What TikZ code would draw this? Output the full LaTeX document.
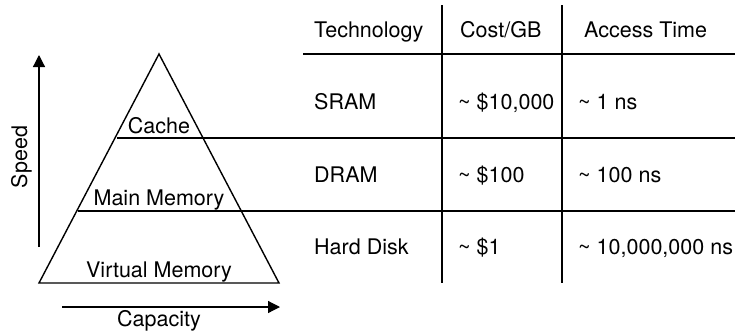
\documentclass[tikz,border=0pt]{standalone}
\usepackage{fontspec}
\setmainfont{TeX Gyre Heros}
\usetikzlibrary{arrows.meta}

\begin{document}
\begin{tikzpicture}[x=1pt,y=-1pt,>={Triangle[length=12pt,width=12pt]},
    every node/.style={font=\fontsize{21.5}{26}\selectfont,inner sep=0pt},
    cell/.style={anchor=base west}, rule/.style={line width=1.4pt}]
    \useasboundingbox (0,0) rectangle (735,332);
    % pyramid
    \coordinate (top) at (159,54);
    \coordinate (bl) at (39,283);
    \coordinate (br) at (279,283);
    \draw[rule,line join=miter] (top) -- (bl) -- (br) -- cycle;
    \draw[rule] (117,138) -- (735,138);
    \draw[rule] (78,211) -- (735,211);
    \node[anchor=base] (cache) at (159,133) {Cache};
    \node[anchor=base] (main) at (159,205) {Main Memory};
    \node[anchor=base] (virt) at (159,277) {Virtual Memory};
    % axes
    \coordinate (sp0) at (39,247);
    \coordinate (sp1) at (39,55);
    \draw[->,line width=1.2pt] (sp0) -- (sp1);
    \node[anchor=base,rotate=90] (speed) at (27,157) {Speed};
    \coordinate (ca0) at (62,307);
    \coordinate (ca1) at (280,307);
    \draw[->,line width=1.2pt] (ca0) -- (ca1);
    \node[anchor=base] (capacity) at (159,326) {Capacity};
    % table
    \draw[rule] (303,54) -- (735,54);
    \draw[rule] (442,5) -- (442,283);
    \draw[rule] (562,5) -- (562,283);
    \node[cell] (tech) at (314,37) {Technology};
    \node[cell] (cost) at (460,37) {Cost/GB};
    \node[cell] (time) at (584,37) {Access Time};
    \node[cell] (sram) at (314,109) {SRAM};
    \node[cell] (sramcost) at (458,109) {\textasciitilde{} \$10,000};
    \node[cell] (sramtime) at (578,109) {\textasciitilde{} 1 ns};
    \node[cell] (dram) at (314,182) {DRAM};
    \node[cell] (dramcost) at (458,182) {\textasciitilde{} \$100};
    \node[cell] (dramtime) at (578,182) {\textasciitilde{} 100 ns};
    \node[cell] (disk) at (314,254) {Hard Disk};
    \node[cell] (diskcost) at (458,254) {\textasciitilde{} \$1};
    \node[cell] (disktime) at (578,254) {\textasciitilde{} 10,000,000 ns};
\end{tikzpicture}
\end{document}
